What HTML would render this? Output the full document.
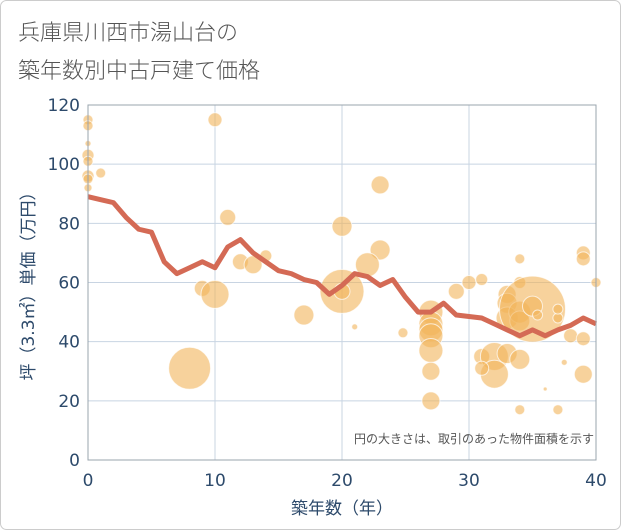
<!DOCTYPE html>
<html><head><meta charset="utf-8"><style>
html,body{margin:0;padding:0;background:#fff}
svg{display:block;font-family:"DejaVu Sans","Noto Sans CJK JP",sans-serif}
</style></head><body>
<svg id="chart" width="621" height="530" viewBox="0 0 621 530">
<rect x="0.5" y="0.5" width="620" height="529" rx="6" fill="#fff" stroke="#ccc"/>
<text x="18" y="40" font-size="22" fill="#555" font-weight="300">兵庫県川西市湯山台の</text>
<text x="18" y="78" font-size="22" fill="#555" font-weight="300">築年数別中古戸建て価格</text>
<g id="grid"></g>
<g id="bubbles"></g>
<g id="line"></g>
<g id="axes"></g>
<text x="594" y="443" font-size="12" fill="#555" text-anchor="end">円の大きさは、取引のあった物件面積を示す</text>
<text x="342" y="514" font-size="17" fill="#2d4a6b" text-anchor="middle">築年数（年）</text>
<text transform="translate(34,282) rotate(-90)" font-size="17" fill="#2d4a6b" text-anchor="middle">坪（3.3㎡）単価（万円）</text>
</svg>
<script>
const xTicks=[0,10,20,30,40];
const yTicks=[0,20,40,60,80,100,120];
const lineX=[0,1,2,3,4,5,6,7,8,9,10,11,12,13,14,15,16,17,18,19,20,21,22,23,24,25,26,27,28,29,30,31,32,33,34,35,36,37,38,39,40];
const lineY=[89,88,87,82,78,77,67,63,65,67,65,72,74.5,70,67,64,63,61,60,56,59,63,62,59,61,55,50,50,53,49,48.5,48,46,44,42,44,42,44,45.5,48,46];
const bubX=[0,0,0,0,0,0,0,0,1,10,11,12,13,14,9,10,8,17,20,20,20,21,23,23,22,24.8,27,27,27,27,27,27,27,29,30,31,31,32,32,31,33,33,33,33,34,34,34,34,34,34,35,35,35.4,36,37,37,37,37.5,38,39,39,39,39,40];
const bubY=[115,113,107,103,101,96,95,92,97,115,82,67,66,69,58,56,31,49,57,57,79,45,93,71,66,43,50,46,44,42,37,30,20,57,60,61,35,35,29,31,56,53,48,36,50,47,34,68,60,17,51,52,49,24,48,51,17,33,42,70,68,41,29,60];
const bubR=[5,5,3,6,5,6,5,4,5,7,8,8,9,6,8,14,21,10,22,8,10,3,9,10,12,5,12,12,12,12,12,9,9,8,7,6,8,14,14,7,9,10,11,10,11,10,10,5,6,5,33,10,5,2,5,5,5,3,7,7,7,7,9,5];
const X0=88,X1=596,Y0=460,Y1=105;
const sx=v=>X0+(v-0)/(40-0)*(X1-X0);
const sy=v=>Y0-(v-0)/(120-0)*(Y0-Y1);
const NS='http://www.w3.org/2000/svg';
function mk(t,a,p){const e=document.createElementNS(NS,t);for(const k in a)e.setAttribute(k,a[k]);p.appendChild(e);return e;}
const grid=document.getElementById('grid'),axes=document.getElementById('axes'),bub=document.getElementById('bubbles'),ln=document.getElementById('line');
xTicks.forEach(t=>{const l=mk('line',{x1:sx(t),x2:sx(t),y1:Y1,y2:Y0,stroke:'#c8d4e2','stroke-width':1},grid);


const tx=mk('text',{x:sx(t),y:Y0+26,'font-size':17,fill:'#2d4a6b','text-anchor':'middle'},axes);tx.textContent=t;

});
yTicks.forEach(t=>{const l=mk('line',{x1:X0,x2:X1,y1:sy(t),y2:sy(t),stroke:'#c8d4e2','stroke-width':1},grid);


const tx=mk('text',{x:X0-8,y:sy(t)+6,'font-size':17,fill:'#2d4a6b','text-anchor':'end'},axes);tx.textContent=t;

});
const fr=mk('rect',{x:X0,y:Y1,width:X1-X0,height:Y0-Y1,fill:'none',stroke:'#9aa4ae','stroke-width':1},axes);


bubX.forEach((v,i)=>{const c=mk('circle',{cx:sx(v),cy:sy(bubY[i]),r:bubR[i],fill:'rgba(242,180,90,0.6)',stroke:'rgba(255,255,255,0.7)','stroke-width':1},bub);

});
const p=mk('polyline',{points:lineX.map((v,i)=>sx(v)+','+sy(lineY[i])).join(' '),fill:'none',stroke:'#d46a55','stroke-width':5,'stroke-linejoin':'round'},ln);


</script>
</body></html>
